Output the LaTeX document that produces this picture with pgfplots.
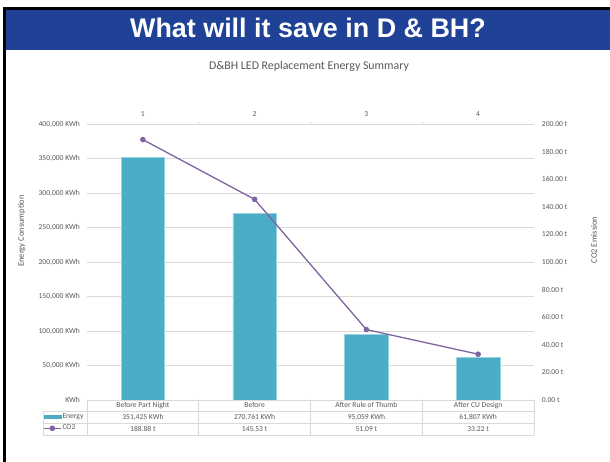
\documentclass[border=0pt]{standalone}
\usepackage{pgfplots}
\pgfplotsset{compat=1.18}
\usepackage{fontspec}
\setmainfont{Carlito}
\newfontfamily\arialfont{Liberation Sans}
\definecolor{hdrblue}{RGB}{31,66,150}
\definecolor{barblue}{RGB}{75,172,198}
\definecolor{linepurple}{RGB}{128,100,162}
\definecolor{txtgray}{RGB}{89,89,89}
\definecolor{gridgray}{RGB}{217,217,217}
\begin{document}
\begin{tikzpicture}[x=1bp,y=1bp]
\path[use as bounding box, fill=white] (0,0) rectangle (610,462);
\fill[hdrblue] (6,412) rectangle (610,452);
\fill[black] (3,452) rectangle (610,455);
\fill[black] (3,0) rectangle (6,455);
\node[anchor=base, text=white, font=\arialfont\bfseries\fontsize{27}{32}\selectfont, inner sep=0pt] at (308,424) {What will it save in D \& BH?};
\node[anchor=base, text=txtgray, font=\fontsize{11.9}{14}\selectfont, inner sep=0pt] at (309,392) {D\&BH LED Replacement Energy Summary};

\pgfplotsset{common/.style={scale only axis, width=447bp, height=275.7bp, at={(87bp,62bp)}, anchor=south west,
  xmin=-0.5, xmax=3.5, axis line style={draw=none}, major tick length=0pt, scaled y ticks=false,
  tick label style={font=\fontsize{7.6}{9}\selectfont, text=txtgray, inner sep=0pt}}}

\begin{axis}[common, ymin=0, ymax=400000,
  ytick={0,50000,100000,150000,200000,250000,300000,350000,400000},
  yticklabels={KWh,{50,000 KWh},{100,000 KWh},{150,000 KWh},{200,000 KWh},{250,000 KWh},{300,000 KWh},{350,000 KWh},{400,000 KWh}},
  yticklabel style={anchor=east, xshift=-7bp},
  ymajorgrids, grid style={gridgray, line width=0.75bp},
  xtick={0,1,2,3}, xticklabels={Before Part Night, Before, After Rule of Thumb, After CU Design},
  xticklabel style={anchor=base, yshift=-7.9bp}]
\addplot[ybar, bar width=0.39, fill=barblue, draw=barblue!55!white, line width=0.6bp]
  coordinates {(0,351425) (1,270761) (2,95059) (3,61807)};
\end{axis}

\begin{axis}[common, ymin=0, ymax=200,
  ytick={0,20,40,60,80,100,120,140,160,180,200},
  yticklabels={0.00 t,20.00 t,40.00 t,60.00 t,80.00 t,100.00 t,120.00 t,140.00 t,160.00 t,180.00 t,200.00 t},
  yticklabel pos=right, yticklabel style={anchor=west, xshift=7.7bp},
  xtick={0,1,2,3}, xticklabels={1,2,3,4}, xticklabel pos=upper,
  xticklabel style={anchor=base, yshift=7.6bp},
  extra x ticks={0.5,1.5,2.5}, extra x tick labels={},
  extra x tick style={major tick length=2bp, tick style={gridgray, line width=0.75bp}, xtick pos=upper, tick align=outside},
  legend cell align=left,
  legend style={at={(-0.0984,-0.044)}, anchor=north west, draw=none, fill=none,
    font=\fontsize{7.6}{9}\selectfont, text=txtgray, inner sep=0pt, row sep=3.4bp,
    nodes={inner sep=1bp}}]
\addlegendimage{legend image code/.code={\fill[barblue] (0bp,-1.8bp) rectangle (17bp,1.8bp);}}
\addlegendentry{Energy}
\addplot[linepurple, line width=1.3bp, mark=*, mark size=2.1bp, mark options={fill=linepurple},
  legend image code/.code={\draw[linepurple, line width=1.3bp] (0bp,0bp) -- (17bp,0bp); \fill[linepurple] (8.5bp,0bp) circle (2.1bp);}]
  coordinates {(0,188.88) (1,145.53) (2,51.09) (3,33.22)};
\addlegendentry{CO2}
\end{axis}

% data table
\begin{scope}[gridgray, line width=0.75bp]
\draw (43,51) -- (534,51);
\draw (43,38.5) -- (534,38.5);
\draw (43,27) -- (534,27);
\draw (43,51) -- (43,27);
\foreach \x in {87,198.75,310.5,422.25,534} \draw (\x,62) -- (\x,27);
\end{scope}
\begin{scope}[every node/.style={anchor=base, text=txtgray, font=\fontsize{7.6}{9}\selectfont, inner sep=0pt}]
\node at (142.9,42) {351,425 KWh};
\node at (254.6,42) {270,761 KWh};
\node at (366.4,42) {95,059 KWh};
\node at (478.1,42) {61,807 KWh};
\node at (142.9,30.3) {188.88 t};
\node at (254.6,30.3) {145.53 t};
\node at (366.4,30.3) {51.09 t};
\node at (478.1,30.3) {33.22 t};
\end{scope}
\node[rotate=90, text=txtgray, font=\fontsize{8.5}{10}\selectfont, inner sep=0pt] at (21.7,231) {Energy Consumption};
\node[rotate=90, text=txtgray, font=\fontsize{8.5}{10}\selectfont, inner sep=0pt] at (594,222) {CO2 Emission};
\end{tikzpicture}
\end{document}
